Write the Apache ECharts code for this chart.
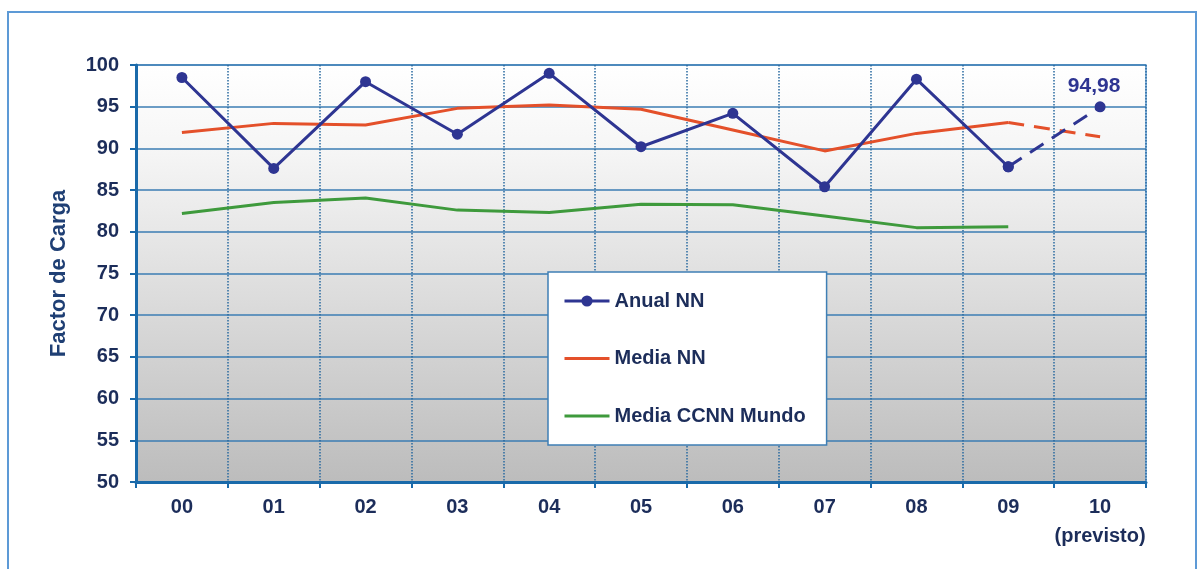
<!DOCTYPE html>
<html>
<head>
<meta charset="utf-8">
<script src="https://cdn.jsdelivr.net/npm/echarts@6/dist/echarts.min.js"></script>
<style>html,body{margin:0;padding:0;background:#fff;}#c{width:1202px;height:569px;}</style>
</head>
<body>
<div id="c"></div>
<script>
var categories = ['00','01','02','03','04','05','06','07','08','09','10\n(previsto)'];
var anualNN = [98.5, 87.6, 98.0, 91.7, 99.0, 90.2, 94.2, 85.4, 98.3, 87.8, null];
var anualNNPrev = [null, null, null, null, null, null, null, null, null, 87.8, 94.98];
var mediaNN = [91.9, 93.0, 92.8, 94.8, 95.2, 94.7, 92.2, 89.7, 91.8, 93.1, null];
var mediaNNPrev = [null, null, null, null, null, null, null, null, null, 93.1, 91.4];
var mediaMundo = [82.2, 83.5, 84.05, 82.6, 82.3, 83.3, 83.25, 81.9, 80.5, 80.6, null];
var seriesNames = ['Anual NN', 'Media NN', 'Media CCNN Mundo'];

var FONT = 'Liberation Sans, Arial, sans-serif';
var TXT = '#1c2d5a';
var BLUE = '#2e3592', RED = '#e4502a', GREEN = '#3e9a3c';

var chart = echarts.init(document.getElementById('c'));
chart.setOption({
  animation: false,
  backgroundColor: '#ffffff',
  graphic: [{
    type: 'rect', shape: {x: 8, y: 12, width: 1188, height: 600},
    style: {fill: 'none', stroke: '#5d9ad6', lineWidth: 2}, z: -10
  }],
  grid: {
    left: 136, right: 56, top: 65, bottom: 87,
    show: true, borderColor: '#5d9ad0', borderWidth: 1.5,
    backgroundColor: new echarts.graphic.LinearGradient(0, 0, 0, 1, [
      {offset: 0, color: '#ffffff'},
      {offset: 0.2, color: '#f6f6f6'},
      {offset: 1, color: '#bcbcbc'}
    ])
  },
  legend: {
    data: seriesNames.map(function(n, i){
      return i === 0 ? {name: n} : {name: n, itemStyle: {opacity: 0}};
    }),
    orient: 'vertical',
    left: 548, top: 272,
    padding: [19, 21, 19, 15],
    itemGap: 37.5,
    itemWidth: 45, itemHeight: 14,
    lineStyle: {width: 3},
    backgroundColor: '#ffffff',
    borderColor: '#3f7fb5', borderWidth: 1.5,
    textStyle: {fontFamily: FONT, fontSize: 20, fontWeight: 'bold', color: TXT}
  },
  xAxis: {
    type: 'category',
    data: categories,
    boundaryGap: true,
    axisLine: {lineStyle: {color: '#1a6aaa', width: 3}},
    axisTick: {show: true, interval: 0, length: 6, lineStyle: {color: '#1a6aaa', width: 2}},
    axisLabel: {interval: 0, fontFamily: FONT, fontSize: 20, fontWeight: 'bold', color: TXT, margin: 11, lineHeight: 29},
    splitLine: {show: true, interval: 0, lineStyle: {color: '#2a6aa0', width: 1.5, type: 'dotted'}}
  },
  yAxis: {
    type: 'value',
    min: 50, max: 100, interval: 5,
    name: 'Factor de Carga',
    nameLocation: 'middle',
    nameGap: 66,
    nameRotate: 90,
    nameTextStyle: {fontFamily: FONT, fontSize: 22, fontWeight: 'bold', color: '#1f3f74'},
    axisLine: {show: true, lineStyle: {color: '#1a6aaa', width: 3}},
    axisTick: {show: true, length: 6, lineStyle: {color: '#1a6aaa', width: 2}},
    axisLabel: {fontFamily: FONT, fontSize: 20, fontWeight: 'bold', color: TXT, margin: 17},
    splitLine: {show: true, lineStyle: {color: '#3b7db3', width: 1.5}}
  },
  series: [
    {
      name: 'Anual NN', type: 'line', data: anualNN,
      symbol: 'circle', symbolSize: 11, showSymbol: true,
      itemStyle: {color: BLUE}, lineStyle: {color: BLUE, width: 3}, z: 5
    },
    {
      name: 'Anual NN (previsto)', type: 'line',
      data: anualNNPrev.map(function(v, i){
        if (i === anualNNPrev.length - 1) {
          return {value: v, label: {show: true, position: 'top', distance: 5, offset: [-6, 0],
            formatter: function(p){ return String(p.value).replace('.', ','); },
            fontFamily: FONT, fontSize: 21, fontWeight: 'bold', color: '#2e3592'}};
        }
        return v;
      }),
      symbol: 'circle', symbolSize: 11,
      itemStyle: {color: BLUE}, lineStyle: {color: BLUE, width: 3, type: [16, 10]}, z: 5
    },
    {
      name: 'Media NN', type: 'line', data: mediaNN,
      symbol: 'none', itemStyle: {color: RED}, lineStyle: {color: RED, width: 3}, z: 4
    },
    {
      name: 'Media NN (previsto)', type: 'line', data: mediaNNPrev,
      symbol: 'none', itemStyle: {color: RED}, lineStyle: {color: RED, width: 3, type: [16, 10]}, z: 4
    },
    {
      name: 'Media CCNN Mundo', type: 'line', data: mediaMundo,
      symbol: 'none', itemStyle: {color: GREEN}, lineStyle: {color: GREEN, width: 3}, z: 4
    }
  ]
});
</script>
</body>
</html>
